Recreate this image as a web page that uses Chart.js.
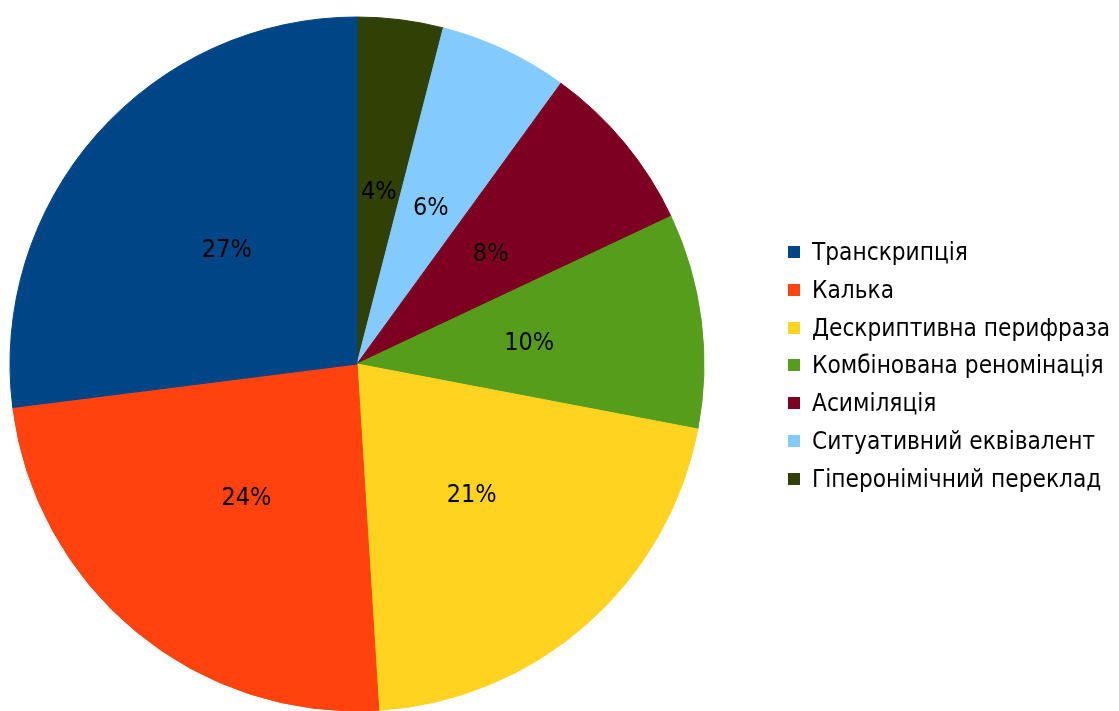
<!DOCTYPE html>
<html>
<head>
<meta charset="utf-8">
<script src="https://cdn.jsdelivr.net/npm/chart.js@4.4.0/dist/chart.umd.min.js"></script>
<style>
html,body{margin:0;padding:0;background:#ffffff;}
#wrap{position:relative;width:1119px;height:711px;overflow:hidden;}
#chart{position:absolute;left:0;top:0;}
#legend{position:absolute;left:0;top:0;width:1119px;height:711px;pointer-events:none;
  font-family:"DejaVu Sans Condensed","DejaVu Sans",sans-serif;font-size:24.2px;color:#000;}
.item{position:absolute;left:788px;height:38px;display:flex;align-items:center;white-space:nowrap;}
.box{width:12px;height:12px;margin-right:12px;flex:none;}
</style>
</head>
<body>
<div id="wrap">
  <canvas id="chart" width="1119" height="711"></canvas>
  <div id="legend"></div>
</div>
<script>
const categories = [
  "Транскрипція",
  "Калька",
  "Дескриптивна перифраза",
  "Комбінована реномінація",
  "Асиміляція",
  "Ситуативний еквівалент",
  "Гіперонімічний переклад"
];
const values = [27, 24, 21, 10, 8, 6, 4];
const colors = ["#004586", "#ff420e", "#ffd320", "#579d1c", "#7e0021", "#83caff", "#314004"];

// LibreOffice-style counter-clockwise order: feed the pie in reverse (Chart.js draws clockwise)
const pieLabels = categories.slice().reverse();
const pieValues = values.slice().reverse();
const pieColors = colors.slice().reverse();

const labelPlugin = {
  id: 'sliceLabels',
  afterDatasetsDraw(chart) {
    const ctx = chart.ctx;
    const meta = chart.getDatasetMeta(0);
    ctx.save();
    ctx.font = '25px "DejaVu Sans Condensed", "DejaVu Sans", sans-serif';
    ctx.fillStyle = '#000';
    ctx.textAlign = 'center';
    ctx.textBaseline = 'middle';
    meta.data.forEach((arc, i) => {
      const p = arc.tooltipPosition();
      ctx.fillText(pieValues[i] + '%', p.x, p.y + 1);
    });
    ctx.restore();
  }
};

new Chart(document.getElementById('chart'), {
  type: 'pie',
  data: {
    labels: pieLabels,
    datasets: [{
      data: pieValues,
      backgroundColor: pieColors,
      borderColor: pieColors,
      borderWidth: 1,
      radius: 347
    }]
  },
  options: {
    responsive: false,
    animation: false,
    rotation: 0,
    layout: { padding: { left: 10, top: 17, right: 415, bottom: 0 } },
    plugins: {
      legend: { display: false },
      tooltip: { enabled: false }
    }
  },
  plugins: [labelPlugin]
});

// legend (in original order)
const legend = document.getElementById('legend');
categories.forEach((c, i) => {
  const it = document.createElement('div');
  it.className = 'item';
  it.style.top = (233 + i * 37.8) + 'px';
  const b = document.createElement('span');
  b.className = 'box';
  b.style.background = colors[i];
  const t = document.createElement('span');
  t.textContent = c;
  it.appendChild(b);
  it.appendChild(t);
  legend.appendChild(it);
});
</script>
</body>
</html>
